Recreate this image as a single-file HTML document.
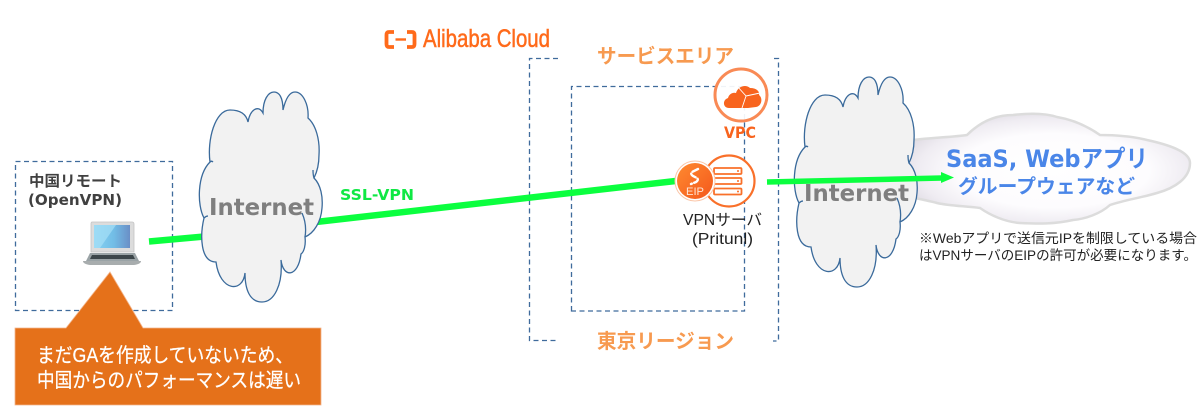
<!DOCTYPE html>
<html lang="ja">
<head>
<meta charset="utf-8">
<title>Network diagram</title>
<style>
html,body{margin:0;padding:0;background:#fff;width:1200px;height:418px;overflow:hidden}
svg{display:block}
text{font-family:"Liberation Sans","Noto Sans CJK JP",sans-serif}
.dv{font-family:"DejaVu Sans","Noto Sans CJK JP",sans-serif}
</style>
</head>
<body>
<svg width="1200" height="418" viewBox="0 0 1200 418" xmlns="http://www.w3.org/2000/svg">
<defs>
<radialGradient id="saas" cx="52%" cy="52%" r="56%">
<stop offset="0" stop-color="#ffffff"/>
<stop offset=".6" stop-color="#fdfcfe"/>
<stop offset=".85" stop-color="#efecf2"/>
<stop offset="1" stop-color="#e0dce4"/>
</radialGradient>
<linearGradient id="eip" x1="0" y1="0" x2="1" y2="1">
<stop offset="0" stop-color="#ff8a30"/>
<stop offset="1" stop-color="#f4581c"/>
</linearGradient>
<linearGradient id="screen" x1="0" y1="0" x2="1" y2="0">
<stop offset="0" stop-color="#86d2f2"/>
<stop offset=".55" stop-color="#72bde6"/>
<stop offset="1" stop-color="#6a8fc6"/>
</linearGradient>
<g id="cloud">
<path d="M210 162C207 140 215 110 230 110C239 110 246 113 248 122C250 110 258 104 263 113C263 100 268 92 274 92C279 92 283 97 283 110C286 97 290 92 295 92C303 92 309 105 308 118C316 125 320 140 319 155C319 165 317 172 314 178C321 185 323 197 322 208C321 222 314 233 305 237C306 245 304 252 301 254C298 278 283 278 281 260C283 285 274 302 262 302C250 302 245 290 245 273C243 293 220 292 216 262C200 262 200 235 204 218C197 205 197 175 210 162Z"/>
<path d="M302 213C306 222 306 231 305 237M204 218C205 217 207 216 208 216M210 162C211 161 212 161 213 162M314 178C313 175 313 172 313 170" fill="none"/>
</g>
</defs>

<!-- Tokyo region / service area dashed frames -->
<g fill="none" stroke="#3f6b9c" stroke-width="1.300" stroke-dasharray="5 3.500">
<path d="M558 58.500H529.500V340.500H558"/>
<path d="M774 58.500H778.500V341H773"/>
<path d="M571.500 311V86.500H744.500V311Z"/>
<rect x="15.500" y="161.500" width="157" height="149"/>
</g>

<!-- SaaS cloud -->
<path d="M905 141C925 138 955 137 967 135C980 122 995 115 1013 115C1030 113 1045 113 1057 117C1075 120 1090 128 1100 135C1120 135 1135 137 1147 140C1170 145 1190 152 1190 163C1190 178 1175 188 1157 193C1140 198 1125 200 1110 205C1100 214 1085 219 1073 220C1055 224 1040 224 1020 223C1005 222 990 215 980 208C965 206 950 206 937 203C930 201 920 199 905 196Z" fill="url(#saas)" stroke="#dcdcdc" stroke-width="2.500"/>

<!-- main VPN link behind left cloud -->
<path d="M149 241.500L210 236M316 222L680 180.500" fill="none" stroke="#0bff3f" stroke-width="6.500"/>

<!-- Clouds -->
<use href="#cloud" fill="#f2f2f2" stroke="#3a6a9b" stroke-width="1.300"/>
<use href="#cloud" transform="translate(595 -15)" fill="#f2f2f2" stroke="#3a6a9b" stroke-width="1.300"/>
<text class="dv" x="209" y="215" font-size="23" font-weight="700" fill="#7f7f7f" textLength="105" lengthAdjust="spacingAndGlyphs">Internet</text>
<text class="dv" x="804" y="201" font-size="23" font-weight="700" fill="#7f7f7f" textLength="105" lengthAdjust="spacingAndGlyphs">Internet</text>

<!-- arrow to SaaS -->
<path d="M767 182L942 178" fill="none" stroke="#0bff3f" stroke-width="5.500"/>
<path d="M941 172L954 177.500L941 183Z" fill="#0bff3f"/>

<!-- Left box -->
<text class="dv" x="29" y="186" font-size="15" font-weight="700" fill="#404040" textLength="93" lengthAdjust="spacingAndGlyphs">中国リモート</text>
<text class="dv" x="28" y="205" font-size="15" font-weight="700" fill="#404040" textLength="94" lengthAdjust="spacingAndGlyphs">(OpenVPN)</text>

<!-- Laptop -->
<path d="M92 222H132Q134 222 134 224V252H91V224Q91 222 92 222Z" fill="#dcdcdc" stroke="#c4c4c4" stroke-width=".8"/>
<rect x="94" y="225" width="36" height="23" fill="url(#screen)"/>
<path d="M94 225H116L100 248H94Z" fill="#a6e0f6" opacity=".7"/>
<path d="M90 253H135L139 261H86Z" fill="#9aa3a6"/>
<path d="M92 255H133L135 259H90Z" fill="#3c464a"/>
<path d="M83 261Q83 264 90 265H134Q141 264 141 261Z" fill="#a8adae"/>

<!-- Callout -->
<path d="M15 328H66L110 272L143 328H321V405H15Z" fill="#e5711a" stroke="#f3b58c" stroke-width=".8"/>
<text x="37" y="362" font-size="20" fill="#fff" stroke="#fff" stroke-width=".25" textLength="256" lengthAdjust="spacingAndGlyphs">まだGAを作成していないため、</text>
<text x="37" y="387" font-size="20" fill="#fff" stroke="#fff" stroke-width=".25" textLength="264" lengthAdjust="spacingAndGlyphs">中国からのパフォーマンスは遅い</text>

<!-- SSL-VPN -->
<text class="dv" x="340" y="200" font-size="15" font-weight="700" fill="#0fe844" textLength="74" lengthAdjust="spacingAndGlyphs">SSL-VPN</text>

<!-- Alibaba Cloud logo -->
<g fill="none" stroke="#ff6a1a" stroke-width="3.800">
<path d="M394 32H389Q386.500 32 386.500 35V44Q386.500 47 389 47H394"/>
<path d="M407 32H412Q414.500 32 414.500 35V44Q414.500 47 412 47H407"/>
<path d="M395.500 39.500H406" stroke-width="2.400"/>
</g>
<text x="423" y="47" font-size="25" fill="#ff6a1a" stroke="#ff6a1a" stroke-width=".5" textLength="127" lengthAdjust="spacingAndGlyphs">Alibaba Cloud</text>

<!-- area labels -->
<text x="597" y="63" font-size="20" font-weight="700" fill="#f79a50" textLength="137" lengthAdjust="spacingAndGlyphs">サービスエリア</text>
<text x="597" y="348" font-size="20" font-weight="700" fill="#f79a50" textLength="137" lengthAdjust="spacingAndGlyphs">東京リージョン</text>

<!-- VPC icon -->
<circle cx="741" cy="95" r="26" fill="#fff" fill-opacity=".92" stroke="#f98a55" stroke-width="3"/>
<path d="M729 108C723 108 722 100 728 98C729 94 733 92 736 93C738 86 746 84 750 88C757 88 760 92 759 95C763 98 762 106 756 107L748 108Z" fill="#f8641e"/>
<path d="M737 86L746 96L742 108M746 96L760 93" fill="none" stroke="#fff" stroke-width=".9"/>
<text class="dv" x="724" y="138" font-size="16" font-weight="700" fill="#f8641e" textLength="32" lengthAdjust="spacingAndGlyphs">VPC</text>

<!-- Server + EIP icon -->
<circle cx="729" cy="181" r="25.500" fill="#fff" stroke="#f9702a" stroke-width="2.200"/>
<g fill="#fff" stroke="#f9702a" stroke-width="1.800">
<rect x="714" y="168" width="27.500" height="6" rx="1"/>
<rect x="714" y="178" width="27.500" height="6" rx="1"/>
<rect x="714" y="188.500" width="27.500" height="6" rx="1"/>
</g>
<g fill="#f9702a"><circle cx="738" cy="171" r="1"/><circle cx="738" cy="181" r="1"/><circle cx="738" cy="191.500" r="1"/></g>
<circle cx="695" cy="181" r="20" fill="#fff" stroke="#fbc6a8" stroke-width="1"/>
<circle cx="695" cy="181" r="18" fill="url(#eip)"/>
<path d="M698 169L692 172Q690 174 693 176L697 178Q699 180 696 182L691 184" fill="none" stroke="#fff" stroke-width="2.400" stroke-linecap="round" stroke-dasharray="6 2.500"/>
<text x="686" y="195" font-size="11" fill="#ffe3d2" textLength="18" lengthAdjust="spacingAndGlyphs">EIP</text>

<!-- Server labels -->
<text x="683" y="225" font-size="15.500" fill="#222" textLength="79" lengthAdjust="spacingAndGlyphs">VPNサーバ</text>
<text x="692" y="244" font-size="15.500" fill="#222" textLength="61" lengthAdjust="spacingAndGlyphs">(Pritunl)</text>

<!-- SaaS labels -->
<text class="dv" x="946" y="167" font-size="24" font-weight="700" fill="#4a86e8" textLength="202" lengthAdjust="spacingAndGlyphs">SaaS, Webアプリ</text>
<text class="dv" x="958" y="193" font-size="19.500" font-weight="700" fill="#4a86e8" textLength="177" lengthAdjust="spacingAndGlyphs">グループウェアなど</text>

<!-- note -->
<text x="919" y="243" font-size="13.500" fill="#222" textLength="278" lengthAdjust="spacingAndGlyphs">※Webアプリで送信元IPを制限している場合</text>
<text x="919" y="260" font-size="13.500" fill="#222" textLength="278" lengthAdjust="spacingAndGlyphs">はVPNサーバのEIPの許可が必要になります。</text>
</svg>
</body>
</html>
